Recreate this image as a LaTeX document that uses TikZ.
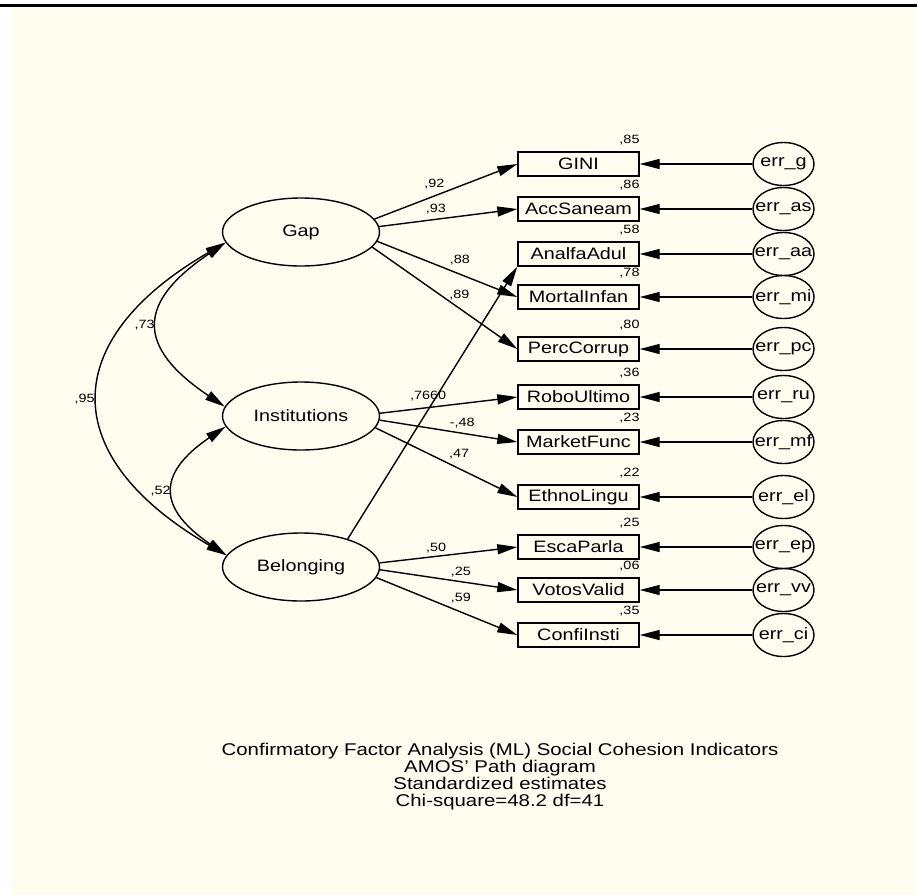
\documentclass[tikz,border=0pt]{standalone}
\usepackage{fontspec}
\setmainfont{Liberation Sans}[FakeStretch=1.2]
\usepackage{tikz}
\usetikzlibrary{shapes.geometric,arrows.meta}
\definecolor{amosbg}{RGB}{255,253,240}
\newcommand\varfont{\fontsize{16.5}{18}\selectfont}
\newcommand\estfont{\fontsize{12}{12}\selectfont}
\newcommand\capfont{\fontsize{17}{17}\selectfont}

\begin{document}
\begin{tikzpicture}[x=1pt, y=1pt,
  latent/.style={draw, ellipse, line width=1.4pt, minimum width=157pt, minimum height=68pt, inner sep=0pt, font=\varfont},
  obs/.style={draw, rectangle, line width=1.4pt, minimum width=121pt, minimum height=24pt, inner sep=0pt, font=\varfont},
  err/.style={draw, ellipse, line width=1.4pt, minimum width=61pt, minimum height=43pt, inner sep=0pt, font=\varfont},
  est/.style={font=\estfont, inner sep=0pt},
  corr/.style={est, anchor=south east, yshift=6pt},
  load/.style={-{Triangle[length=20pt,width=10pt]}, line width=1.4pt},
  cov/.style={{Triangle[length=20pt,width=10pt]}-{Triangle[length=20pt,width=10pt]}, line width=1.4pt}]
  \useasboundingbox (0,0) rectangle (917,-895);
  \fill[amosbg] (12,-7) rectangle (917,-895);
  \draw[line width=3pt] (0,-5) -- (917,-5);

  \node[latent] (gap) at (301,-232) {Gap};
  \node[latent] (inst) at (301,-416) {Institutions};
  \node[latent] (belong) at (301,-567) {Belonging};

  \node[obs, label={[corr]north east:{,85}}] (gini) at (578.5,-164) {GINI};
  \node[obs, label={[corr]north east:{,86}}] (accsan) at (578.5,-209) {AccSaneam};
  \node[obs, label={[corr]north east:{,58}}] (analfa) at (578.5,-254) {AnalfaAdul};
  \node[obs, label={[corr]north east:{,78}}] (mortal) at (578.5,-297) {MortalInfan};
  \node[obs, label={[corr]north east:{,80}}] (perc) at (578.5,-349) {PercCorrup};
  \node[obs, label={[corr]north east:{,36}}] (robo) at (578.5,-397) {RoboUltimo};
  \node[obs, label={[corr]north east:{,23}}] (market) at (578.5,-442) {MarketFunc};
  \node[obs, label={[corr]north east:{,22}}] (ethno) at (578.5,-497) {EthnoLingu};
  \node[obs, label={[corr]north east:{,25}}] (esca) at (578.5,-547) {EscaParla};
  \node[obs, label={[corr]north east:{,06}}] (votos) at (578.5,-590) {VotosValid};
  \node[obs, label={[corr]north east:{,35}}] (confi) at (578.5,-635) {ConfiInsti};

  \node[err] (eg) at (783.5,-164) {\makebox[0pt]{err\_g}};
  \node[err] (eas) at (783.5,-209) {\makebox[0pt]{err\_as}};
  \node[err] (eaa) at (783.5,-254) {\makebox[0pt]{err\_aa}};
  \node[err] (emi) at (783.5,-297) {\makebox[0pt]{err\_mi}};
  \node[err] (epc) at (783.5,-349) {\makebox[0pt]{err\_pc}};
  \node[err] (eru) at (783.5,-397) {\makebox[0pt]{err\_ru}};
  \node[err] (emf) at (783.5,-442) {\makebox[0pt]{err\_mf}};
  \node[err] (eel) at (783.5,-497) {\makebox[0pt]{err\_el}};
  \node[err] (eep) at (783.5,-547) {\makebox[0pt]{err\_ep}};
  \node[err] (evv) at (783.5,-590) {\makebox[0pt]{err\_vv}};
  \node[err] (eci) at (783.5,-635) {\makebox[0pt]{err\_ci}};

  \path[load]
  (gap.10) edge node[est, pos=.42, above=6pt] {,92} (gini.west)
  (gap.4) edge node[est, pos=.41, above=5pt] {,93} (accsan.west)
  (gap.-7) edge node[est, pos=.59, above=8pt] {,88} (mortal.west)
  (gap.-12) edge node[est, pos=.6, above=8pt] {,89} (perc.west)
  (inst.2) edge node[est, pos=.35, above=6pt] {,7660} (robo.west)
  (inst.-3) edge node[est, pos=.6, above=5pt] {-,48} (market.west)
  (inst.-9) edge node[est, pos=.59, above=9pt] {,47} (ethno.west)
  (belong.31) edge (analfa.south west)
  (belong.3) edge node[est, pos=.41, above=3pt] {,50} (esca.west)
  (belong.-2) edge node[est, pos=.59, above=4pt] {,25} (votos.west)
  (belong.-8) edge node[est, pos=.6, above=8pt] {,59} (confi.west)
  (eg) edge (gini) (eas) edge (accsan) (eaa) edge (analfa)
  (emi) edge (mortal) (epc) edge (perc) (eru) edge (robo)
  (emf) edge (market) (eel) edge (ethno) (eep) edge (esca)
  (evv) edge (votos) (eci) edge (confi);

  \draw[cov] (gap.188) .. controls +(-89,-60) and +(-89,60) .. node[est, left=3pt] {,73} (inst.173);
  \draw[cov] (gap.188) .. controls +(-169,-98) and +(-169,98) .. node[est, left=4pt] {,95} (belong.171);
  \draw[cov] (inst.188) .. controls +(-69,-47) and +(-69,47) .. node[est, left=3pt] {,52} (belong.171);

  \node[font=\capfont, align=center] (caption) at (500,-777) {Confirmatory Factor Analysis (ML) Social Cohesion Indicators\\AMOS' Path diagram\\Standardized estimates\\Chi-square=48.2 df=41};
\end{tikzpicture}
\end{document}
